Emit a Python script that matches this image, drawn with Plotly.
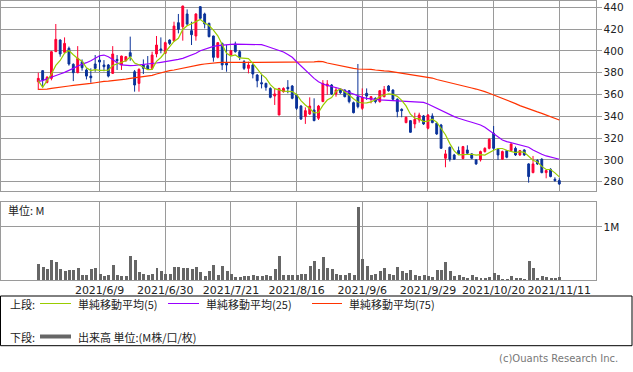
import numpy as np
import plotly.graph_objects as go

# ---------------- data ----------------
trading_days = {
    5: [20, 21, 24, 25, 26, 27, 28, 31],
    6: [1, 2, 3, 4, 7, 8, 9, 10, 11, 14, 15, 16, 17, 18, 21, 22, 23, 24, 25, 28, 29, 30],
    7: [1, 2, 5, 6, 7, 8, 9, 12, 13, 14, 15, 16, 19, 20, 21, 26, 27, 28, 29, 30],
    8: [2, 3, 4, 5, 6, 10, 11, 12, 13, 16, 17, 18, 19, 20, 23, 24, 25, 26, 27, 30, 31],
    9: [1, 2, 3, 6, 7, 8, 9, 10, 13, 14, 15, 16, 17, 21, 22, 24, 27, 28, 29, 30],
    10: [1, 4, 5, 6, 7, 8, 11, 12, 13, 14, 15, 18, 19, 20, 21, 22, 25, 26, 27, 28, 29],
    11: [1, 2, 4, 5, 8, 9, 10, 11],
}
dates = [f"2021/{m}/{d}" for m, ds in trading_days.items() for d in ds]

tick_labels = ["2021/6/9", "2021/6/30", "2021/7/21", "2021/8/16",
               "2021/9/6", "2021/9/29", "2021/10/20", "2021/11/11"]

open_ = [371.7, 381.9, 371.1, 374.8, 399.3, 410.0, 398.7, 402.4, 387.7, 380.0,
         390.1, 382.5, 376.9, 388.0, 391.6, 387.1, 387.1, 379.4, 392.2, 387.1,
         391.0, 398.4, 380.9, 370.2, 387.1, 386.5, 384.0, 397.2, 401.8, 397.8,
         410.0, 409.4, 425.9, 422.2, 433.9, 418.6, 413.7, 440.6, 433.9, 425.3,
         413.7, 394.1, 406.9, 388.6, 396.2, 406.3, 399.3, 390.1, 384.0, 387.1,
         377.9, 370.8, 370.2, 365.6, 358.6, 341.2, 362.6, 366.6, 367.8, 359.6,
         349.4, 339.7, 342.1, 345.8, 338.2, 353.5, 367.8, 368.7, 360.5, 364.7,
         364.1, 363.5, 352.5, 358.0, 347.3, 361.1, 355.6, 356.5, 353.5, 358.0,
         367.8, 364.1, 355.6, 346.4, 334.2, 336.0, 333.0, 336.6, 340.3, 329.0,
         340.3, 333.6, 332.0, 301.5, 311.6, 304.5, 308.5, 301.2, 309.1, 305.5,
         300.0, 300.0, 307.6, 310.6, 324.4, 309.7, 300.6, 308.5, 308.5, 310.6,
         304.5, 309.1, 296.3, 288.3, 299.4, 300.6, 288.3, 291.4, 282.2, 281.0]

high = [380.0, 382.0, 377.0, 400.0, 424.7, 410.6, 412.4, 404.0, 388.6, 404.4,
        392.2, 384.0, 384.0, 396.2, 396.2, 391.6, 388.0, 404.4, 396.2, 395.6,
        395.3, 413.1, 382.5, 384.0, 392.2, 395.3, 399.3, 413.7, 412.4, 408.5,
        410.6, 426.8, 433.9, 441.5, 438.1, 426.8, 434.5, 441.2, 435.1, 425.9,
        414.0, 408.0, 407.6, 405.4, 400.8, 408.5, 400.8, 391.6, 390.1, 388.0,
        378.8, 377.9, 370.8, 366.6, 365.6, 366.0, 366.6, 373.2, 368.7, 360.2,
        350.4, 348.2, 357.4, 356.5, 350.4, 373.2, 373.2, 369.6, 366.6, 365.6,
        364.7, 364.1, 353.5, 388.0, 365.6, 365.6, 358.6, 357.4, 364.1, 367.8,
        368.7, 364.7, 356.5, 347.3, 339.7, 336.6, 343.3, 343.3, 341.2, 342.1,
        342.7, 334.2, 333.0, 309.1, 312.2, 305.5, 312.2, 312.8, 313.4, 306.1,
        300.6, 308.5, 311.6, 319.8, 331.1, 310.6, 308.5, 309.1, 315.2, 312.2,
        309.1, 309.7, 296.9, 303.6, 300.6, 301.5, 290.8, 292.3, 284.0, 283.1]

low = [364.1, 366.6, 370.2, 373.0, 399.0, 394.7, 397.8, 386.5, 372.3, 379.5,
       381.9, 373.8, 370.8, 380.9, 380.9, 381.3, 375.7, 378.8, 382.5, 382.5,
       390.1, 391.0, 362.6, 362.6, 378.8, 382.5, 382.5, 394.1, 397.8, 397.5,
       405.4, 408.5, 416.1, 409.4, 423.0, 405.4, 409.4, 428.3, 420.7, 412.4,
       390.1, 393.2, 382.5, 380.9, 395.3, 398.4, 391.6, 382.5, 379.4, 374.8,
       366.6, 365.6, 363.5, 356.5, 350.4, 341.0, 361.7, 361.1, 355.6, 345.8,
       336.6, 333.0, 341.2, 335.5, 336.6, 353.0, 359.6, 359.6, 358.0, 360.5,
       357.4, 351.9, 342.7, 347.3, 345.8, 355.0, 351.9, 351.9, 352.5, 357.4,
       362.6, 355.0, 339.1, 339.1, 333.6, 325.0, 329.0, 334.2, 332.0, 328.0,
       333.6, 322.9, 310.6, 293.2, 298.5, 300.0, 304.5, 300.6, 305.5, 300.6,
       295.4, 298.5, 306.7, 309.7, 309.1, 300.0, 300.0, 301.5, 307.6, 303.6,
       303.6, 303.6, 279.1, 287.7, 295.4, 287.7, 283.1, 284.0, 280.0, 277.0]

close = [374.8, 373.2, 375.7, 399.3, 410.6, 397.2, 406.9, 388.0, 380.0, 393.2,
         384.6, 376.9, 375.4, 384.0, 389.8, 385.5, 376.9, 397.2, 391.0, 395.3,
         394.7, 394.7, 368.7, 383.1, 384.0, 383.4, 396.2, 405.4, 400.8, 407.6,
         406.9, 422.8, 419.8, 441.2, 424.7, 414.9, 433.9, 429.9, 424.7, 413.1,
         394.1, 407.6, 387.1, 387.1, 400.2, 399.3, 394.1, 384.0, 387.1, 378.8,
         372.6, 369.9, 366.6, 357.4, 360.5, 365.6, 365.6, 365.3, 356.5, 347.3,
         337.5, 345.2, 349.4, 336.0, 349.4, 370.2, 369.6, 360.5, 364.1, 361.7,
         358.0, 353.5, 343.3, 348.8, 357.4, 358.6, 358.0, 353.5, 363.5, 364.7,
         363.5, 355.6, 344.3, 345.2, 339.1, 325.3, 337.2, 341.2, 333.0, 341.2,
         334.2, 323.8, 310.6, 305.5, 300.6, 300.6, 305.5, 312.2, 306.1, 301.5,
         296.3, 307.6, 310.6, 318.9, 310.6, 304.5, 307.6, 302.4, 314.6, 304.5,
         308.5, 304.5, 284.7, 296.3, 296.3, 288.3, 290.2, 284.7, 281.0, 277.9]

# first four 5-day averages (they depend on earlier days)
ma5_head = [372.7, 366.6, 372.7, 378.8]

ma25 = [372.1, 372.7, 374.5, 375.7, 377.0, 378.8, 380.3, 381.9, 384.0, 386.1,
        388.0, 389.2, 391.0, 393.5, 395.6, 396.2, 394.7, 392.2, 389.2, 387.1,
        386.5, 386.5, 386.8, 387.1, 387.7, 388.3, 388.6, 388.9, 389.5, 390.1,
        390.4, 391.0, 392.2, 393.2, 394.7, 396.2, 397.8, 400.2, 401.7, 403.3,
        404.2, 404.8, 405.4, 405.7, 406.0, 406.3, 406.3, 406.3, 406.3, 406.3,
        406.3, 405.7, 404.5, 403.3, 401.7, 400.8, 399.0, 396.8, 394.1, 390.1,
        386.1, 382.5, 378.8, 374.8, 371.7, 369.6, 368.4, 367.5, 366.6, 365.3,
        363.5, 362.0, 360.2, 358.6, 357.4, 356.5, 355.9, 355.6, 355.0, 354.9,
        354.7, 354.6, 354.4, 354.2, 354.1, 353.9, 353.8, 353.5, 352.8, 351.3,
        349.4, 347.3, 344.9, 343.3, 341.5, 339.7, 338.2, 336.6, 335.7, 334.5,
        333.3, 332.0, 329.9, 326.9, 323.8, 320.7, 318.3, 316.8, 315.8, 314.9,
        314.3, 313.1, 311.6, 309.1, 307.0, 305.2, 303.6, 302.4, 301.5, 300.6]

ma75 = [364.7, 364.7, 365.0, 365.6, 366.0, 366.6, 367.2, 367.8, 368.4, 368.7,
        369.3, 369.6, 370.2, 370.8, 371.7, 372.0, 372.3, 372.6, 373.2, 373.8,
        374.1, 374.8, 375.4, 375.7, 376.3, 376.9, 377.5, 378.8, 380.0, 380.9,
        381.9, 382.5, 383.4, 384.0, 384.6, 385.5, 386.5, 387.4, 388.0, 388.6,
        388.9, 389.2, 389.4, 389.5, 389.5, 389.5, 389.5, 389.5, 389.5, 389.5,
        389.5, 389.5, 389.5, 389.5, 389.5, 389.5, 389.6, 389.6, 389.7, 389.7,
        389.8, 389.8, 389.9, 390.0, 390.4, 390.1, 388.9, 388.0, 387.1, 386.5,
        385.5, 384.6, 384.0, 383.4, 383.4, 383.3, 383.1, 382.5, 381.9, 381.6,
        381.5, 380.9, 380.3, 380.0, 379.4, 378.8, 377.9, 377.3, 376.6, 376.0,
        375.1, 373.8, 372.9, 372.0, 370.8, 369.6, 368.7, 367.8, 366.9, 366.0,
        365.0, 364.1, 362.6, 361.1, 359.6, 358.0, 356.5, 355.0, 353.5, 351.6,
        349.8, 348.2, 346.7, 345.2, 344.0, 342.7, 341.2, 339.7, 338.2, 336.6]

# volume in millions
volume = [0.32, 0.25, 0.22, 0.38, 0.34, 0.21, 0.18, 0.20, 0.20, 0.23,
          0.10, 0.10, 0.21, 0.23, 0.13, 0.09, 0.10, 0.30, 0.11, 0.08,
          0.08, 0.47, 0.38, 0.16, 0.13, 0.10, 0.13, 0.23, 0.18, 0.13,
          0.13, 0.26, 0.25, 0.23, 0.23, 0.22, 0.25, 0.16, 0.08, 0.18,
          0.30, 0.11, 0.28, 0.18, 0.13, 0.07, 0.06, 0.08, 0.08, 0.11,
          0.08, 0.08, 0.10, 0.08, 0.21, 0.47, 0.10, 0.10, 0.11, 0.10,
          0.13, 0.13, 0.28, 0.36, 0.21, 0.44, 0.23, 0.21, 0.13, 0.11,
          0.11, 0.15, 0.11, 1.386, 0.40, 0.27, 0.11, 0.13, 0.17, 0.23,
          0.13, 0.11, 0.25, 0.17, 0.15, 0.19, 0.095, 0.076, 0.095, 0.076,
          0.057, 0.19, 0.19, 0.34, 0.17, 0.076, 0.095, 0.057, 0.038, 0.095,
          0.057, 0.038, 0.038, 0.057, 0.15, 0.11, 0.02, 0.02, 0.076, 0.038,
          0.038, 0.02, 0.36, 0.23, 0.038, 0.076, 0.057, 0.038, 0.038, 0.057]

price_ticks = [280, 300, 320, 340, 360, 380, 400, 420, 440]

# 5-day simple moving average of closes
ma5 = ma5_head + list(np.convolve(close, np.ones(5) / 5, mode="valid"))

# ---------------- styling ----------------
W, H = 633, 372
RED = "#FF0033"
BLUE = "#0A3299"
GRID = "#9A9A9A"
C_MA5 = "#99CC00"
C_MA25 = "#9900FF"
C_MA75 = "#FF3300"
VOLC = "#666666"
FONT = "DejaVu Sans, Noto Sans CJK JP, sans-serif"
JFONT = "Noto Sans CJK JP, DejaVu Sans, sans-serif"


def px(x):
    return x / W


def py(y):
    return (H - y) / H


fig = go.Figure()
fig.add_trace(go.Candlestick(
    x=dates, open=open_, high=high, low=low, close=close,
    increasing=dict(line=dict(color=RED, width=1), fillcolor=RED),
    decreasing=dict(line=dict(color=BLUE, width=1), fillcolor=BLUE),
    whiskerwidth=0, xaxis="x", yaxis="y", showlegend=False))
fig.add_trace(go.Scatter(x=dates, y=ma75, mode="lines", line=dict(color=C_MA75, width=1.2),
                         xaxis="x", yaxis="y", showlegend=False))
fig.add_trace(go.Scatter(x=dates, y=ma25, mode="lines", line=dict(color=C_MA25, width=1.2),
                         xaxis="x", yaxis="y", showlegend=False))
fig.add_trace(go.Scatter(x=dates, y=ma5, mode="lines", line=dict(color=C_MA5, width=1.2),
                         xaxis="x", yaxis="y", showlegend=False))
fig.add_trace(go.Bar(x=dates, y=volume, marker=dict(color=VOLC, line=dict(width=0)),
                     width=0.68, xaxis="x2", yaxis="y2", showlegend=False))

xdom = [px(0.5), px(595.5)]
xrange_ = [-8.63, 127.27]
common_x = dict(domain=xdom, type="category", categoryorder="array", categoryarray=dates,
                range=xrange_, tickvals=tick_labels, showgrid=True, gridcolor=GRID,
                gridwidth=1, showline=True, linecolor=GRID, linewidth=1, mirror=True,
                zeroline=False, ticks="", fixedrange=True, automargin=False)

fig.update_layout(
    width=W, height=H,
    margin=dict(l=0, r=0, t=0, b=0),
    paper_bgcolor="white", plot_bgcolor="white",
    showlegend=False, bargap=0, boxgap=0.4,
    font=dict(family=FONT, size=11, color="#222"),
    xaxis=dict(common_x, anchor="y", showticklabels=False, rangeslider=dict(visible=False)),
    xaxis2=dict(common_x, anchor="y2", matches="x", showticklabels=True, ticktext=tick_labels,
                tickfont=dict(family=FONT, size=11, color="#222"), rangeslider=dict(visible=False)),
    yaxis=dict(domain=[py(190.7), py(0.5)], anchor="x", side="right", range=[271.71, 446.27],
               tickvals=price_ticks, showgrid=True, gridcolor=GRID, gridwidth=1,
               showline=True, linecolor=GRID, linewidth=1, mirror=True, zeroline=False,
               ticks="outside", ticklen=5, tickcolor=GRID, tickwidth=1,
               tickfont=dict(family=FONT, size=10.5, color="#222"), fixedrange=True, automargin=False),
    yaxis2=dict(domain=[py(280), py(201.5)], anchor="x2", side="right", range=[0, 1.48],
                tickvals=[1.0], ticktext=["1M"], showgrid=True, gridcolor=GRID, gridwidth=1,
                showline=True, linecolor=GRID, linewidth=1, mirror=True, zeroline=False,
                ticks="outside", ticklen=5, tickcolor=GRID, tickwidth=1,
                tickfont=dict(family=FONT, size=10.5, color="#222"), fixedrange=True, automargin=False),
)

shapes = [
    dict(type="rect", xref="paper", yref="paper", x0=px(0.5), x1=px(632), y0=py(345.7), y1=py(296),
         line=dict(color="black", width=1), fillcolor="rgba(0,0,0,0)"),
    dict(type="line", xref="paper", yref="paper", x0=px(40), x1=px(71), y0=py(303.5), y1=py(303.5),
         line=dict(color=C_MA5, width=1)),
    dict(type="line", xref="paper", yref="paper", x0=px(168), x1=px(199), y0=py(303.5), y1=py(303.5),
         line=dict(color=C_MA25, width=1)),
    dict(type="line", xref="paper", yref="paper", x0=px(312), x1=px(342), y0=py(303.5), y1=py(303.5),
         line=dict(color=C_MA75, width=1)),
    dict(type="line", xref="paper", yref="paper", x0=px(40), x1=px(71), y0=py(336.5), y1=py(336.5),
         line=dict(color=VOLC, width=4)),
]
fig.update_layout(shapes=shapes)


def note(text, x, y, size=11, color="#222", family=JFONT, anchor="left"):
    fig.add_annotation(text=text, x=px(x), y=py(y), xref="paper", yref="paper",
                       xanchor=anchor, yanchor="middle", showarrow=False,
                       font=dict(family=family, size=size, color=color))


note("単位: M", 5.5, 209.5)
note("上段:", 8, 303.5)
note("単純移動平均(5)", 76, 303.5)
note("単純移動平均(25)", 204, 303.5)
note("単純移動平均(75)", 347, 303.5)
note("下段:", 8, 336.5)
note("出来高 単位:(M株/口/枚)", 76, 336.5)
note("(c)Ouants Research Inc.", 497, 358.5, size=10, color="#777", family=FONT)

fig.write_html("out.html", config={"displayModeBar": False},
               post_script="document.body.style.margin='0';")
